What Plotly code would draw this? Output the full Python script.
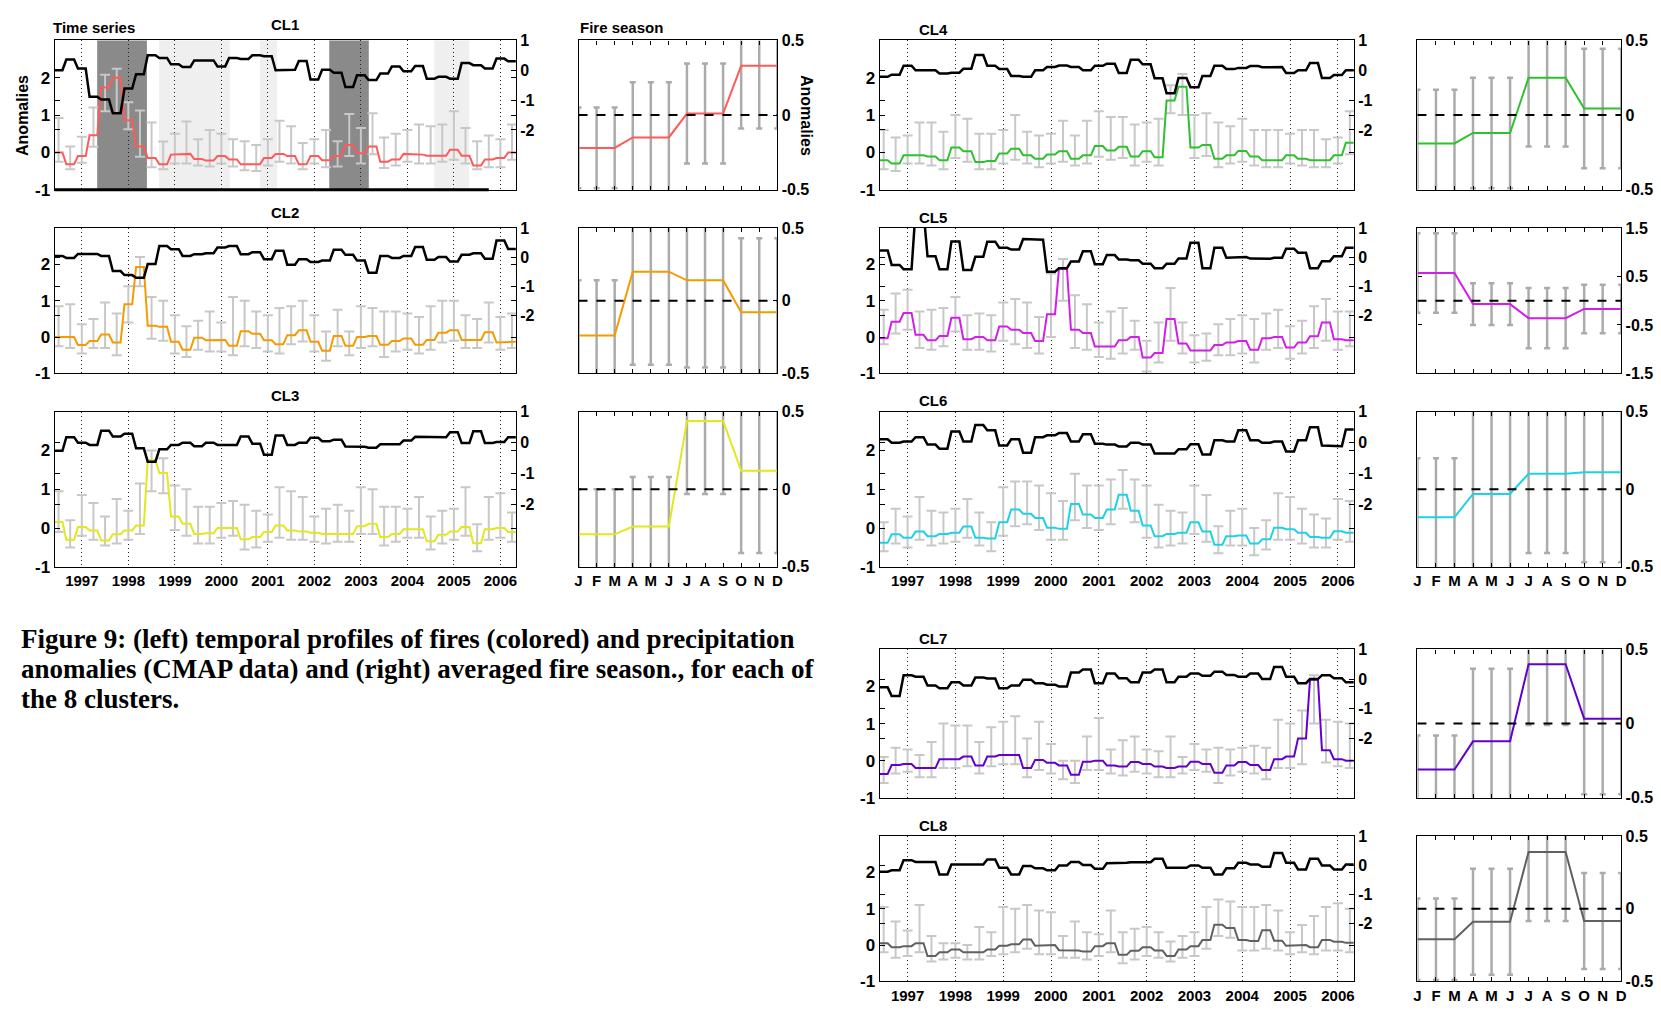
import plotly.graph_objects as go

FIG_W, FIG_H = 1661, 1013
FONT = "Liberation Sans"
SERIF = "Liberation Serif"

FIRST_MONTH = 1996 + 5 / 12          # June 1996, first monthly sample
N_MONTHS = 120                        # June 1996 .. May 2006
YEARS = list(range(1997, 2007))
MONTHS = ["J", "F", "M", "A", "M", "J", "J", "A", "S", "O", "N", "D"]

# ---------------------------------------------------------------------------
# Seasonal (3-month) anomalies, JJA 1996 .. MAM 2006 (40 seasons per cluster)
#   *_fire : fire anomaly (left axis)
#   *_prec : CMAP precipitation anomaly (right axis)
#   *_hi / *_lo : upper / lower end of the spread bar for each season
# ---------------------------------------------------------------------------
cl1_fire = [0.0, -0.32, -0.1, 0.46, 1.74, 2.0, 0.86, 0.16, -0.15, -0.32,
            -0.06, -0.04, -0.18, -0.22, -0.1, -0.19, -0.32, -0.32, -0.15, -0.04,
            -0.1, -0.32, -0.1, -0.21, -0.1, 0.2, -0.02, 0.16, -0.25, -0.19,
            -0.04, -0.06, -0.09, -0.09, 0.07, -0.09, -0.35, -0.19, -0.15, 0.0]
cl1_prec = [0.0, 0.36, 0.06, -0.89, -0.98, -1.44, -0.61, -0.13, 0.5, 0.41,
            0.2, 0.11, 0.33, 0.33, 0.13, 0.41, 0.38, 0.5, 0.47, 0.0,
            0.02, 0.31, -0.31, 0.02, -0.08, -0.56, -0.17, -0.33, -0.11, 0.13,
            -0.03, 0.14, -0.28, -0.22, -0.28, 0.24, 0.17, 0.06, 0.39, 0.3]
cl1_hi = [0.92, 0.16, 0.42, 1.2, 2.08, 2.24, 1.34, 1.12, 0.8, 0.29,
          0.5, 0.83, 0.35, 0.6, 0.5, 0.35, 0.3, 0.2, 0.35, 0.85,
          0.7, 0.25, 0.35, 0.6, 0.3, 1.03, 0.65, 1.05, 0.4, 0.5,
          0.6, 0.75, 0.7, 0.75, 1.1, 0.65, 0.3, 0.45, 0.35, 0.75]
cl1_lo = [-0.25, -0.45, -0.28, 0.15, 1.1, 1.05, 0.62, -0.12, -0.4, -0.45,
          -0.3, -0.3, -0.35, -0.38, -0.3, -0.38, -0.48, -0.5, -0.35, -0.25,
          -0.3, -0.45, -0.3, -0.4, -0.38, -0.1, -0.3, -0.05, -0.42, -0.35,
          -0.25, -0.3, -0.3, -0.25, -0.2, -0.3, -0.45, -0.4, -0.4, -0.2]

cl2_fire = [0.0, 0.0, -0.22, -0.11, 0.07, -0.15, 0.9, 1.93, 0.31, 0.28,
            -0.13, -0.35, -0.02, -0.09, -0.08, -0.24, 0.16, 0.09, -0.09, -0.2,
            0.05, 0.19, -0.13, -0.38, 0.03, -0.24, 0.0, 0.03, -0.21, -0.11,
            -0.04, -0.21, -0.08, 0.12, 0.19, -0.08, -0.08, 0.13, -0.15, -0.13]
cl2_prec = [0.04, -0.03, 0.11, 0.11, 0.04, -0.48, -0.62, -0.71, -0.24, 0.38,
            0.27, 0.04, 0.1, 0.13, 0.33, 0.38, 0.1, 0.17, -0.07, 0.22,
            -0.26, -0.07, -0.17, -0.12, 0.25, 0.08, -0.12, -0.54, 0.04, -0.03,
            0.04, 0.35, -0.09, 0.0, -0.15, 0.08, 0.13, -0.06, 0.57, 0.28]
cl2_hi = [0.85, 0.9, 0.35, 0.5, 0.95, 0.65, 1.4, 2.2, 1.1, 1.0,
          0.6, 0.3, 0.45, 0.7, 0.4, 1.1, 1.0, 0.7, 0.6, 0.8,
          0.85, 1.0, 0.6, 0.15, 0.75, 0.15, 0.85, 0.8, 0.7, 0.7,
          0.65, 0.55, 0.85, 1.0, 1.0, 0.6, 0.5, 0.95, 0.55, 0.65]
cl2_lo = [-0.25, -0.3, -0.45, -0.3, -0.3, -0.5, 0.4, 1.4, -0.05, -0.1,
          -0.45, -0.55, -0.35, -0.4, -0.4, -0.5, -0.25, -0.3, -0.4, -0.45,
          -0.2, -0.12, -0.4, -0.65, -0.25, -0.5, -0.3, -0.25, -0.55, -0.4,
          -0.35, -0.45, -0.35, -0.15, -0.1, -0.3, -0.3, -0.15, -0.35, -0.3]

cl3_fire = [0.16, -0.3, 0.03, -0.06, -0.32, -0.16, -0.06, 0.07, 1.75, 1.42,
            0.3, 0.11, -0.15, -0.13, 0.0, 0.0, -0.29, -0.23, -0.1, 0.07,
            -0.06, -0.09, -0.12, -0.15, -0.15, -0.15, 0.05, 0.11, -0.23, -0.15,
            -0.03, -0.03, -0.34, -0.17, -0.09, 0.03, -0.39, -0.03, 0.0, -0.1]
cl3_prec = [-0.26, 0.18, 0.0, -0.07, 0.39, 0.2, 0.29, -0.18, -0.61, -0.21,
            -0.07, 0.0, -0.11, 0.0, -0.07, -0.07, 0.2, -0.03, -0.39, 0.23,
            -0.07, 0.0, 0.16, 0.05, 0.1, -0.12, -0.13, -0.16, -0.05, -0.05,
            0.07, 0.19, 0.18, 0.18, 0.34, -0.01, 0.37, -0.01, 0.02, 0.18]
cl3_hi = [0.95, 0.2, 0.85, 0.65, 0.3, 0.75, 0.45, 1.15, 2.0, 1.8,
          1.1, 1.0, 0.55, 0.55, 0.65, 0.7, 0.6, 0.45, 0.35, 1.05,
          0.95, 0.8, 0.3, 0.5, 0.6, 0.45, 1.05, 1.0, 0.55, 0.55,
          0.5, 0.8, 0.3, 0.45, 0.5, 1.05, 0.1, 0.8, 0.9, 0.4]
cl3_lo = [-0.1, -0.5, -0.2, -0.3, -0.45, -0.4, -0.3, -0.15, 0.95, 0.9,
          -0.05, -0.2, -0.4, -0.4, -0.25, -0.2, -0.55, -0.5, -0.35, -0.25,
          -0.3, -0.3, -0.35, -0.4, -0.35, -0.35, -0.15, -0.15, -0.45, -0.35,
          -0.25, -0.25, -0.55, -0.4, -0.3, -0.2, -0.6, -0.3, -0.25, -0.35]

cl4_fire = [-0.21, -0.3, -0.08, -0.08, -0.11, -0.21, 0.13, 0.03, -0.26, -0.23,
            -0.03, 0.1, -0.08, -0.17, -0.06, 0.03, -0.17, -0.08, 0.17, 0.05,
            0.15, -0.11, 0.03, -0.13, 1.39, 1.76, 0.13, 0.2, -0.17, -0.08,
            0.04, -0.11, -0.21, -0.21, -0.08, -0.17, -0.21, -0.21, -0.08, 0.26]
cl4_prec = [-0.22, -0.15, 0.15, 0.0, 0.0, -0.11, -0.08, 0.05, 0.51, 0.15,
            0.04, -0.19, -0.22, 0.0, 0.11, 0.16, 0.11, 0.0, 0.15, 0.22,
            -0.09, 0.35, 0.2, -0.27, -0.77, -0.26, -0.57, -0.19, 0.15, 0.04,
            0.08, 0.14, 0.1, 0.11, -0.09, 0.0, 0.24, -0.26, -0.16, 0.0]
cl4_hi = [0.6, 0.4, 0.45, 0.8, 0.8, 0.55, 1.0, 0.9, 0.5, 0.5,
          0.6, 1.0, 0.55, 0.45, 0.5, 0.85, 0.45, 0.85, 1.1, 0.95,
          0.95, 0.75, 0.8, 0.9, 1.8, 2.1, 1.0, 1.05, 0.8, 0.7,
          0.9, 0.6, 0.6, 0.6, 0.5, 0.6, 0.6, 0.35, 0.4, 1.1]
cl4_lo = [-0.45, -0.5, -0.3, -0.3, -0.35, -0.45, -0.15, -0.25, -0.45, -0.45,
          -0.3, -0.2, -0.3, -0.4, -0.3, -0.25, -0.35, -0.3, -0.12, -0.2,
          -0.15, -0.35, -0.25, -0.35, 1.05, 1.0, -0.15, -0.1, -0.4, -0.3,
          -0.25, -0.35, -0.4, -0.4, -0.3, -0.35, -0.4, -0.4, -0.3, -0.05]

cl5_fire = [-0.03, 0.42, 0.66, 0.06, -0.09, 0.03, 0.53, -0.06, 0.0, -0.09,
            0.29, 0.2, 0.11, -0.11, 0.63, 1.88, 0.2, 0.11, -0.26, -0.26,
            -0.09, 0.0, -0.56, -0.44, 0.5, -0.18, -0.37, -0.37, -0.22, -0.15,
            -0.11, -0.35, -0.03, 0.0, -0.29, -0.15, 0.02, 0.4, -0.06, -0.09]
cl5_prec = [0.23, -0.27, -0.42, 1.6, 0.03, -0.42, 0.54, -0.44, 0.01, 0.53,
            0.32, 0.26, 0.62, 0.6, -0.5, -0.38, -0.15, 0.2, -0.25, 0.07,
            -0.08, -0.11, -0.23, -0.38, -0.23, -0.05, 0.49, -0.38, 0.32, -0.02,
            0.0, -0.05, -0.06, -0.02, 0.29, 0.15, -0.38, -0.14, 0.03, 0.32]
cl5_hi = [0.75, 1.2, 1.3, 0.7, 0.75, 0.8, 1.1, 0.6, 0.65, 0.6,
          0.95, 1.05, 0.95, 0.55, 1.75, 2.15, 1.15, 0.9, 0.4, 0.7,
          0.8, 0.45, -0.1, 0.4, 1.35, 0.4, 0.05, 0.1, 0.35, 0.5,
          0.6, 0.5, 0.65, 0.75, 0.3, 0.45, 0.85, 1.05, 0.7, 0.7]
cl5_lo = [-0.2, 0.1, 0.2, -0.3, -0.35, -0.25, 0.15, -0.35, -0.35, -0.4,
          -0.1, -0.2, -0.3, -0.45, 0.0, 1.0, -0.3, -0.35, -0.55, -0.6,
          -0.45, -0.35, -0.95, -0.7, -0.1, -0.45, -0.7, -0.65, -0.5, -0.5,
          -0.45, -0.7, -0.35, -0.3, -0.6, -0.45, -0.3, -0.1, -0.35, -0.25]

cl6_fire = [-0.38, -0.16, -0.25, -0.09, -0.21, -0.15, -0.12, 0.04, -0.25, -0.27,
            0.15, 0.48, 0.37, 0.26, 0.01, -0.02, 0.62, 0.35, 0.26, 0.48,
            0.86, 0.45, 0.07, -0.21, -0.15, -0.12, 0.15, -0.09, -0.43, -0.21,
            -0.19, -0.4, -0.29, 0.01, -0.03, -0.12, -0.23, -0.25, -0.08, -0.12]
cl6_prec = [0.11, 0.0, 0.04, 0.18, -0.06, -0.19, 0.36, 0.04, 0.57, 0.4,
            -0.09, 0.11, -0.32, 0.18, 0.24, 0.31, 0.04, 0.27, -0.03, -0.06,
            -0.12, 0.0, -0.06, -0.35, -0.35, -0.21, -0.05, -0.38, 0.08, 0.04,
            0.4, 0.08, 0.0, 0.04, -0.28, 0.08, 0.5, -0.09, -0.11, 0.43]
cl6_hi = [0.15, 0.5, 0.3, 0.8, 0.45, 0.4, 0.5, 0.75, 0.4, 0.15,
          1.05, 1.2, 1.2, 1.1, 0.9, 0.7, 1.4, 1.1, 1.1, 1.25,
          1.5, 1.25, 1.1, 0.6, 0.45, 0.4, 1.1, 0.85, 0.05, 0.45,
          0.5, 0.0, 0.2, 0.9, 0.8, 0.5, 0.35, 0.25, 0.75, 0.7]
cl6_lo = [-0.6, -0.4, -0.5, -0.3, -0.45, -0.4, -0.35, -0.25, -0.45, -0.6,
          -0.2, 0.05, 0.1, -0.05, -0.3, -0.3, 0.2, 0.0, -0.05, 0.1,
          0.5, 0.15, -0.25, -0.5, -0.45, -0.4, -0.15, -0.35, -0.65, -0.45,
          -0.45, -0.7, -0.55, -0.3, -0.3, -0.4, -0.5, -0.5, -0.3, -0.35]

cl7_fire = [-0.36, -0.12, -0.09, -0.2, -0.2, 0.04, 0.04, 0.11, -0.13, 0.11,
            0.15, 0.15, -0.2, 0.02, -0.06, -0.13, -0.38, -0.03, 0.0, -0.13,
            -0.16, -0.04, -0.09, -0.16, -0.2, -0.16, -0.03, -0.09, -0.33, -0.13,
            -0.04, -0.12, -0.25, 0.04, 0.11, 0.6, 2.18, 0.28, 0.04, 0.0]
cl7_prec = [-0.28, -0.57, 0.13, 0.08, -0.22, -0.31, -0.11, -0.22, 0.05, 0.02,
            -0.31, -0.22, -0.02, -0.14, -0.19, -0.25, 0.22, 0.32, -0.14, 0.19,
            0.03, -0.11, 0.22, 0.32, -0.11, 0.08, 0.19, 0.11, 0.25, 0.14,
            0.08, 0.19, 0.0, 0.41, 0.08, -0.14, 0.0, 0.13, 0.03, -0.11]
cl7_hi = [0.1, 0.35, 0.3, 0.15, 0.5, 1.0, 0.95, 0.95, 0.5, 0.9,
          1.05, 1.2, 0.6, 1.05, 0.45, 0.0, 0.0, 0.65, 1.15, 0.3,
          0.55, 0.65, 0.3, 0.25, 0.65, 0.1, 0.45, 0.3, 0.35, 0.3,
          0.35, 0.4, 0.35, 1.1, 1.0, 1.35, 2.3, 1.1, 1.05, 1.0]
cl7_lo = [-0.6, -0.35, -0.3, -0.45, -0.45, -0.2, -0.2, -0.15, -0.35, -0.15,
          -0.1, -0.1, -0.45, -0.25, -0.35, -0.5, -0.6, -0.25, -0.25, -0.35,
          -0.4, -0.3, -0.35, -0.45, -0.45, -0.35, -0.25, -0.3, -0.6, -0.4,
          -0.3, -0.35, -0.5, -0.2, -0.2, -0.1, 1.0, -0.05, -0.15, -0.2]

cl8_fire = [0.05, -0.06, -0.03, 0.05, -0.3, -0.2, -0.12, -0.2, -0.2, -0.12,
            -0.02, 0.02, 0.15, -0.02, 0.0, -0.14, -0.15, -0.18, -0.03, 0.05,
            -0.27, -0.16, -0.06, -0.15, -0.3, -0.12, -0.03, 0.14, 0.56, 0.47,
            0.14, 0.11, 0.41, 0.12, -0.02, 0.0, -0.06, 0.14, 0.09, 0.06]
cl8_prec = [-0.23, -0.18, 0.17, 0.11, 0.11, -0.32, 0.02, 0.02, 0.02, 0.19,
            -0.09, -0.32, -0.03, -0.11, -0.18, -0.01, 0.11, 0.0, -0.13, 0.06,
            0.08, 0.1, 0.1, 0.22, -0.09, -0.09, -0.01, -0.09, -0.32, -0.11,
            0.08, 0.02, -0.06, 0.42, 0.08, -0.15, 0.22, -0.01, -0.15, 0.02]
cl8_hi = [1.05, 0.65, 0.4, 1.1, 0.25, 0.05, 0.05, 0.0, 0.5, 0.35,
          1.05, 1.0, 1.1, 0.95, 0.9, 0.25, 0.65, 0.35, 0.3, 0.95,
          0.35, 0.45, 0.5, 0.35, 0.1, 0.25, 0.35, 1.05, 1.25, 1.2,
          1.05, 1.05, 1.1, 0.95, 0.35, 0.55, 0.8, 1.05, 1.15, 1.0]
cl8_lo = [-0.2, -0.35, -0.3, -0.2, -0.45, -0.4, -0.35, -0.4, -0.4, -0.3,
          -0.25, -0.2, -0.1, -0.25, -0.25, -0.35, -0.35, -0.4, -0.3, -0.2,
          -0.5, -0.4, -0.3, -0.35, -0.45, -0.35, -0.3, -0.1, 0.25, 0.2,
          -0.15, -0.15, -0.1, -0.15, -0.25, -0.2, -0.25, -0.15, -0.15, -0.2]

# Averaged fire season: JFM, AMJ, JAS, OND anomaly and its spread
cl1_season, cl1_season_err = [-0.22, -0.15, 0.01, 0.33], [0.27, 0.37, 0.335, 0.42]
cl2_season, cl2_season_err = [-0.24, 0.2, 0.14, -0.08], [0.38, 0.64, 0.6, 0.51]
cl3_season, cl3_season_err = [-0.29, -0.24, 0.44, 0.12], [0.29, 0.32, 0.47, 0.53]
cl4_season, cl4_season_err = [-0.19, -0.12, 0.25, 0.044], [0.36, 0.37, 0.46, 0.40]
cl5_season, cl5_season_err = [0.57, -0.07, -0.36, -0.17], [0.82, 0.43, 0.62, 0.5]
cl6_season, cl6_season_err = [-0.18, -0.03, 0.10, 0.11], [0.38, 0.6, 0.51, 0.58]
cl7_season, cl7_season_err = [-0.31, -0.12, 0.40, 0.033], [0.23, 0.49, 0.41, 0.51]
cl8_season, cl8_season_err = [-0.21, -0.09, 0.39, -0.085], [0.28, 0.365, 0.475, 0.33]

# ENSO periods shaded behind the CL1 time series (start, end, strength)
enso_start = [1997.33, 1998.66, 2000.83, 2002.32, 2004.58]
enso_end = [1998.40, 2000.18, 2001.20, 2003.17, 2005.33]
enso_strong = [True, False, False, True, False]

CLUSTERS = [
    ("CL1", "#ff5a5a", cl1_fire, cl1_prec, cl1_hi, cl1_lo, cl1_season, cl1_season_err),
    ("CL2", "#f59a00", cl2_fire, cl2_prec, cl2_hi, cl2_lo, cl2_season, cl2_season_err),
    ("CL3", "#e2e81c", cl3_fire, cl3_prec, cl3_hi, cl3_lo, cl3_season, cl3_season_err),
    ("CL4", "#2ec02e", cl4_fire, cl4_prec, cl4_hi, cl4_lo, cl4_season, cl4_season_err),
    ("CL5", "#d21ee8", cl5_fire, cl5_prec, cl5_hi, cl5_lo, cl5_season, cl5_season_err),
    ("CL6", "#1ed2e6", cl6_fire, cl6_prec, cl6_hi, cl6_lo, cl6_season, cl6_season_err),
    ("CL7", "#6400cc", cl7_fire, cl7_prec, cl7_hi, cl7_lo, cl7_season, cl7_season_err),
    ("CL8", "#606060", cl8_fire, cl8_prec, cl8_hi, cl8_lo, cl8_season, cl8_season_err),
]

# ---------------------------------------------------------------------------
# Panel geometry (pixels)
# ---------------------------------------------------------------------------
COLS = {"L": ((51, 515), (578, 778)), "R": ((881, 1358), (1422, 1627))}
ROWS = [(33, 185), (224, 372), (411, 569), (653, 804), (843, 991)]
PLACE = [("L", 0), ("L", 1), ("L", 2), ("R", 0), ("R", 1), ("R", 2), ("R", 3), ("R", 4)]
LABELLED = {"CL3", "CL6", "CL8"}


def xdom(a, b):
    return [a / FIG_W, b / FIG_W]


def ydom(top, bottom):
    return [1 - bottom / FIG_H, 1 - top / FIG_H]


def axkey(letter, n):
    return f"{letter}axis" if n == 1 else f"{letter}axis{n}"


def axref(letter, n):
    return letter if n == 1 else f"{letter}{n}"


def by_month(seasonal):
    return [v for v in seasonal for _ in range(3)]


def tick_font(size=15):
    return dict(family=FONT, size=size, color="black", weight="bold")


month_x = [FIRST_MONTH + i / 12 for i in range(N_MONTHS)]
season_x = [FIRST_MONTH + (3 * k + 1) / 12 for k in range(N_MONTHS // 3)]
cal_x = list(range(12))

fig = go.Figure()
layout = dict(
    width=FIG_W, height=FIG_H, autosize=False,
    margin=dict(l=0, r=0, t=0, b=0),
    paper_bgcolor="white", plot_bgcolor="white",
    showlegend=False, shapes=[], annotations=[],
)

for i, (name, color, fire, prec, hi, lo, season, season_err) in enumerate(CLUSTERS):
    col, row = PLACE[i]
    (ts_x0, ts_x1), (fs_x0, fs_x1) = COLS[col]
    top, bottom = ROWS[row]
    labelled = name in LABELLED

    xt, xf = 2 * i + 1, 2 * i + 2
    yl, yr, yf = 3 * i + 1, 3 * i + 2, 3 * i + 3

    # --- time-series axes
    layout[axkey("x", xt)] = dict(
        domain=xdom(ts_x0, ts_x1), anchor=axref("y", yl),
        range=[FIRST_MONTH, FIRST_MONTH + (N_MONTHS - 1) / 12],
        tickvals=YEARS, ticktext=[str(y) for y in YEARS],
        showticklabels=labelled, ticks="", tickfont=tick_font(15),
        showgrid=True, gridcolor="#222222", griddash="1px,3px", gridwidth=1,
        showline=True, linecolor="black", linewidth=1.3, mirror=True,
        zeroline=False,
    )
    layout[axkey("y", yl)] = dict(
        domain=ydom(top, bottom), anchor=axref("x", xt), side="left",
        range=[-1, 3], tickvals=[-1, 0, 1, 2], ticktext=["-1", "0", "1", "2"],
        ticks="inside", ticklen=5, tickwidth=1, tickcolor="black",
        tickfont=tick_font(17),
        showgrid=False, zeroline=False,
        showline=True, linecolor="black", linewidth=1.3, mirror="ticks",
    )
    layout[axkey("y", yr)] = dict(
        overlaying=axref("y", yl), anchor=axref("x", xt), side="right",
        range=[-4, 1], tickvals=[1, 0, -1, -2], ticktext=["1", "0", "-1", "-2"],
        ticks="inside", ticklen=5, tickwidth=1, tickcolor="black",
        tickfont=tick_font(16),
        showgrid=False, zeroline=False,
        showline=True, linecolor="black", linewidth=1.3, mirror="ticks",
    )

    # --- fire-season axes
    if name == "CL5":
        fs_range, fs_ticks = [-1.5, 1.5], [1.5, 0.5, -0.5, -1.5]
    else:
        fs_range, fs_ticks = [-0.5, 0.5], [0.5, 0, -0.5]
    layout[axkey("x", xf)] = dict(
        domain=xdom(fs_x0, fs_x1), anchor=axref("y", yf),
        range=[0, 11], tickvals=cal_x, ticktext=MONTHS,
        showticklabels=labelled, ticks="inside", ticklen=4, tickcolor="black",
        tickfont=tick_font(15), showgrid=False, zeroline=False,
        showline=True, linecolor="black", linewidth=1.3, mirror="ticks",
    )
    layout[axkey("y", yf)] = dict(
        domain=ydom(top, bottom), anchor=axref("x", xf), side="right",
        range=fs_range, tickvals=fs_ticks, ticktext=[f"{v:g}" for v in fs_ticks],
        ticks="inside", ticklen=4, tickcolor="black",
        tickfont=tick_font(16), showgrid=False, zeroline=False,
        showline=True, linecolor="black", linewidth=1.3, mirror="ticks",
    )

    # --- time series: spread bars, fire anomaly, precipitation anomaly
    fig.add_trace(go.Scatter(
        x=season_x, y=fire, mode="markers",
        marker=dict(size=2, color="rgba(0,0,0,0)"),
        error_y=dict(type="data", symmetric=False,
                     array=[max(0.0, h - v) for h, v in zip(hi, fire)],
                     arrayminus=[max(0.0, v - l) for l, v in zip(lo, fire)],
                     color="#c8c8c8", thickness=2, width=5),
        xaxis=axref("x", xt), yaxis=axref("y", yl), hoverinfo="skip",
    ))
    fig.add_trace(go.Scatter(
        x=month_x, y=by_month(fire), mode="lines",
        line=dict(color=color, width=2),
        xaxis=axref("x", xt), yaxis=axref("y", yl),
    ))
    fig.add_trace(go.Scatter(
        x=month_x, y=by_month(prec), mode="lines",
        line=dict(color="black", width=2.5),
        xaxis=axref("x", xt), yaxis=axref("y", yr),
    ))

    # --- averaged fire season
    fig.add_trace(go.Scatter(
        x=cal_x, y=by_month(season), mode="markers",
        marker=dict(size=2, color="rgba(0,0,0,0)"),
        error_y=dict(type="data", symmetric=True, array=by_month(season_err),
                     color="#ababab", thickness=2.5, width=3),
        xaxis=axref("x", xf), yaxis=axref("y", yf), hoverinfo="skip",
    ))
    fig.add_trace(go.Scatter(
        x=cal_x, y=by_month(season), mode="lines",
        line=dict(color=color, width=2),
        xaxis=axref("x", xf), yaxis=axref("y", yf),
    ))
    layout["shapes"].append(dict(
        type="line", xref=f"{axref('x', xf)} domain", yref=axref("y", yf),
        x0=0, x1=1, y0=0, y1=0, line=dict(color="black", width=2, dash="dash"),
        layer="above",
    ))

    # --- panel title
    if col == "L":
        layout["annotations"].append(dict(
            text=f"<b>{name}</b>", x=(ts_x0 + ts_x1) / 2 / FIG_W, y=1 - (top - 16) / FIG_H,
            xref="paper", yref="paper", xanchor="center", yanchor="middle",
            showarrow=False, font=dict(family=FONT, size=15, color="black"),
        ))
    else:
        layout["annotations"].append(dict(
            text=f"<b>{name}</b>", x=919 / FIG_W, y=1 - (top - 11) / FIG_H,
            xref="paper", yref="paper", xanchor="left", yanchor="middle",
            showarrow=False, font=dict(family=FONT, size=15, color="black"),
        ))

    # --- ENSO shading on the first time series
    if name == "CL1":
        for s, e, strong in zip(enso_start, enso_end, enso_strong):
            layout["shapes"].append(dict(
                type="rect", xref=axref("x", xt), yref=f"{axref('y', yl)} domain",
                x0=s, x1=e, y0=0, y1=1, layer="below", line=dict(width=0),
                fillcolor="#8a8a8a" if strong else "#efefef",
            ))
        layout["shapes"].append(dict(
            type="line", xref=axref("x", xt), yref=f"{axref('y', yl)} domain",
            x0=FIRST_MONTH, x1=2005.75, y0=0, y1=0, layer="above",
            line=dict(color="black", width=3),
        ))

# Headers and axis titles
for text, x in [("Time series", 47), ("Fire season", 577)]:
    layout["annotations"].append(dict(
        text=f"<b>{text}</b>", x=x / FIG_W, y=1 - 20 / FIG_H, xref="paper", yref="paper",
        xanchor="left", yanchor="middle", showarrow=False,
        font=dict(family=FONT, size=15, color="black"),
    ))
layout["annotations"].append(dict(
    text="<b>Anomalies</b>", x=18 / FIG_W, y=1 - 109 / FIG_H, xref="paper", yref="paper",
    xanchor="center", yanchor="middle", showarrow=False, textangle=-90,
    font=dict(family=FONT, size=16, color="black"),
))
layout["annotations"].append(dict(
    text="<b>Anomalies</b>", x=808 / FIG_W, y=1 - 109 / FIG_H, xref="paper", yref="paper",
    xanchor="center", yanchor="middle", showarrow=False, textangle=90,
    font=dict(family=FONT, size=16, color="black"),
))

# Figure caption
CAPTION = [
    "Figure 9: (left) temporal profiles of fires (colored) and precipitation",
    "anomalies (CMAP data) and (right) averaged fire season., for each of",
    "the 8 clusters.",
]
for k, line in enumerate(CAPTION):
    layout["annotations"].append(dict(
        text=f"<b>{line}</b>", x=15 / FIG_W, y=1 - (642 + 30.5 * k) / FIG_H,
        xref="paper", yref="paper", xanchor="left", yanchor="middle",
        showarrow=False, font=dict(family=SERIF, size=27, color="black"),
    ))

fig.update_layout(**layout)
fig.write_html("out.html")
